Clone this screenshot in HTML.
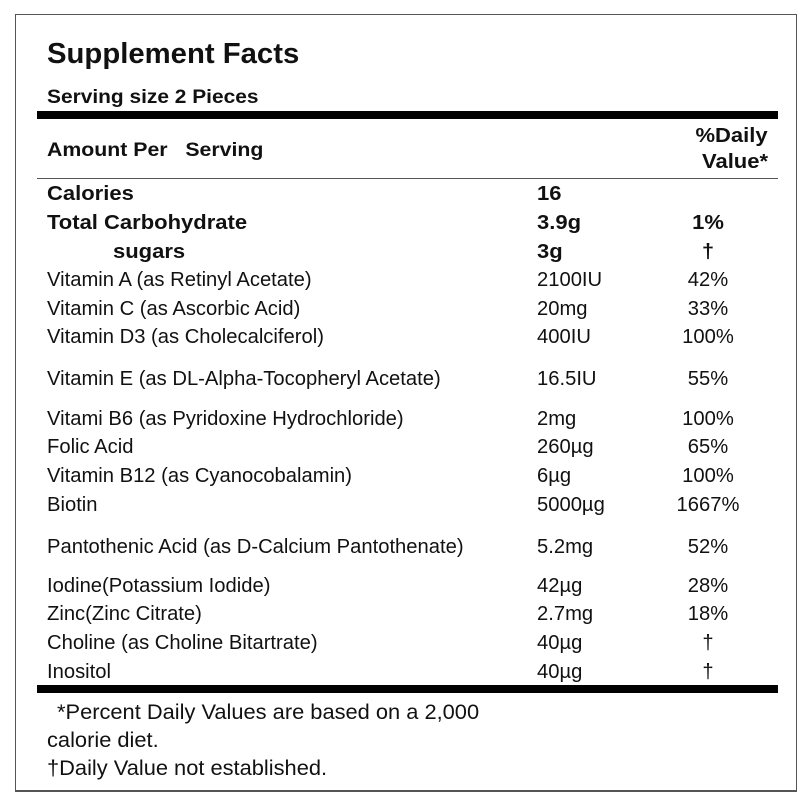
<!DOCTYPE html>
<html><head><meta charset="utf-8"><style>
body{margin:0;background:#fff;}
#c{position:relative;width:800px;height:800px;font-family:"Liberation Sans",Arial,sans-serif;color:#111;overflow:hidden}
.t{position:absolute;white-space:nowrap;height:24px;line-height:24px;font-size:20px;transform-origin:left center;transform:scaleX(1.01)}
.b{font-weight:bold;transform:scaleX(1.1)}
.ctr{transform-origin:center center}
.rt{transform-origin:right center}
.bar{position:absolute;background:#000}
</style></head><body>
<div id="c">
<div style="position:absolute;left:15px;top:14px;width:780px;height:775px;border:1px solid #555;border-bottom-width:2px;border-right-width:1px"></div>
<div class="t b" style="left:47px;top:36px;font-size:29px;height:36px;line-height:36px;transform:scaleX(1.01)">Supplement Facts</div>
<div class="t b" style="left:47px;top:86px;font-size:19px;transform:scaleX(1.1)">Serving size 2 Pieces</div>
<div class="bar" style="left:37px;top:111px;width:741px;height:8px"></div>
<div class="t b" style="left:47px;top:139px;font-size:19px;transform:scaleX(1.12)">Amount Per &nbsp; Serving</div>
<div class="t b rt" style="right:32px;top:124px;text-align:right">%Daily</div>
<div class="t b rt" style="right:32px;top:150px;text-align:right">Value*</div>
<div class="bar" style="left:37px;top:178px;width:741px;height:1px;background:#555"></div>
<div id="rows"></div>
<div class="bar" style="left:37px;top:685px;width:741px;height:8px"></div>
<div class="t" style="left:57px;top:701px;font-size:21px;transform:scaleX(1.04)">*Percent Daily Values are based on a 2,000</div>
<div class="t" style="left:47px;top:729px;font-size:21px;transform:scaleX(1.04)">calorie diet.</div>
<div class="t" style="left:47px;top:757px;font-size:21px;transform:scaleX(1.04)">†Daily Value not established.</div>
</div>
<script>
const names=["Calories","Total Carbohydrate","sugars","Vitamin A (as Retinyl Acetate)","Vitamin C (as Ascorbic Acid)","Vitamin D3 (as Cholecalciferol)","Vitamin E (as DL-Alpha-Tocopheryl Acetate)","Vitami B6 (as Pyridoxine Hydrochloride)","Folic Acid","Vitamin B12 (as Cyanocobalamin)","Biotin","Pantothenic Acid (as D-Calcium Pantothenate)","Iodine(Potassium Iodide)","Zinc(Zinc Citrate)","Choline (as Choline Bitartrate)","Inositol"];
const amounts=["16","3.9g","3g","2100IU","20mg","400IU","16.5IU","2mg","260µg","6µg","5000µg","5.2mg","42µg","2.7mg","40µg","40µg"];
const dvs=["","1%","†","42%","33%","100%","55%","100%","65%","100%","1667%","52%","28%","18%","†","†"];
const rowY=[193,222,251,279,308,336,378,418,446,475,504,546,585,613,642,671];
const c=document.getElementById('rows');
names.forEach((n,i)=>{
  const bold=i<3;
  const a=document.createElement('div');a.className='t'+(bold?' b':'');
  a.style.left=(i==2?113:47)+'px';a.style.top=(rowY[i]-11)+'px';a.textContent=n;
  
  
  c.appendChild(a);
  const b=document.createElement('div');b.className='t'+(bold?' b':'');
  b.style.left='537px';b.style.top=(rowY[i]-11)+'px';b.textContent=amounts[i];
  
  
  c.appendChild(b);
  const d=document.createElement('div');d.className='t ctr'+(bold?' b':'');
  d.style.left='648px';d.style.width='120px';d.style.textAlign='center';d.style.top=(rowY[i]-11)+'px';d.textContent=dvs[i];
  
  
  c.appendChild(d);
});
</script>
</body></html>
